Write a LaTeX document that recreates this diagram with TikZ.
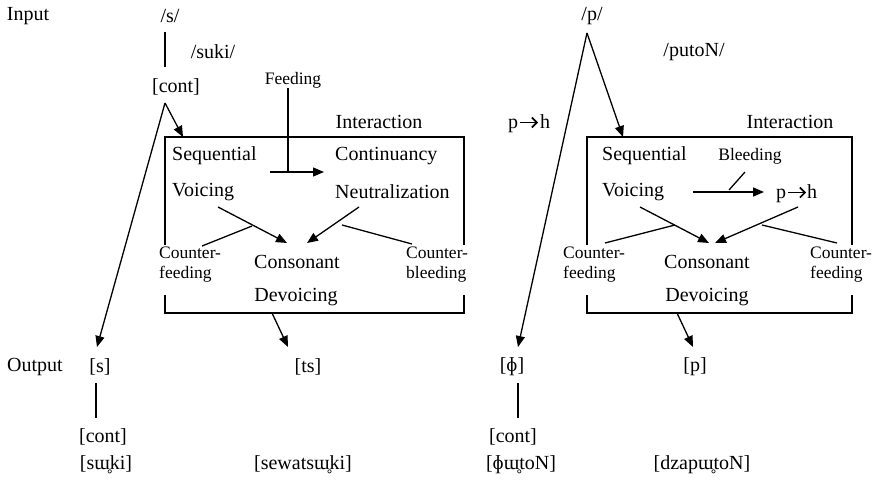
\documentclass[tikz,border=0pt]{standalone}
\usepackage{fontspec}
\setmainfont{Liberation Serif}
\usetikzlibrary{arrows.meta}
\begin{document}
\begin{tikzpicture}[x=1pt,y=-1pt,
  lbl/.style={inner sep=0pt, font=\fontsize{20}{22}\selectfont},
  sm/.style={inner sep=0pt, font=\fontsize{17.5}{20}\selectfont, align=left},
  arr/.style={-{Triangle[length=11pt,width=9pt]}, line width=1.3pt},
  ln/.style={line width=1.3pt},
  pharr/.style={-{Straight Barb[length=5pt,width=10pt,line width=1.6pt]}, line width=1.8pt}]
\useasboundingbox (0,0) rectangle (872,487);
% ---------- left panel ----------
\node[lbl] (in) at (28,16) {Input};
\node[lbl] (s) at (170,16) {/s/};
\node[lbl] (suki) at (213,52) {/suki/};
\node[lbl] (cont1) at (176,87) {[cont]};
\coordinate (v1a) at (165,32);
\coordinate (v1b) at (165,67);
\draw[ln] (v1a) -- (v1b);
\coordinate (apex1) at (165,103);
\coordinate (tipbox1) at (183,137);
\coordinate (tips1) at (97,347);
\draw[arr] (apex1) -- (tipbox1);
\draw[arr] (apex1) -- (tips1);
% box
\coordinate (b1a) at (165,245);
\coordinate (b1b) at (165,137);
\coordinate (b1c) at (464,137);
\coordinate (b1d) at (464,245);
\coordinate (b1e) at (165,295);
\coordinate (b1f) at (165,313);
\coordinate (b1g) at (464,313);
\coordinate (b1h) at (464,295);
\draw[ln] (b1a) -- (b1b) -- (b1c) -- (b1d);
\draw[ln] (b1e) -- (b1f) -- (b1g) -- (b1h);
\node[lbl] (int1) at (379,122) {Interaction};
\node[sm] (feed) at (293,80) {Feeding};
\coordinate (f1) at (288,88);
\coordinate (f2) at (288,172);
\coordinate (f3) at (270,172);
\coordinate (f4) at (324,172);
\draw[ln] (f1) -- (f2);
\draw[arr] (f3) -- (f4);
\node[lbl, anchor=west] (seq1) at (172,156) {Sequential};
\node[lbl, anchor=west] (voi1) at (172,192) {Voicing};
\node[lbl, anchor=west] (con1) at (335,156) {Continuancy};
\node[lbl, anchor=west] (neu1) at (335,192) {Neutralization};
\coordinate (a1s) at (218,207);
\coordinate (a1t) at (287,243);
\coordinate (a2s) at (359,207);
\coordinate (a2t) at (307,243);
\draw[arr] (a1s) -- (a1t);
\draw[arr] (a2s) -- (a2t);
\coordinate (c1a) at (202,246);
\coordinate (c1b) at (252,226);
\coordinate (c2a) at (342,225);
\coordinate (c2b) at (412,244);
\draw[ln] (c1a) -- (c1b);
\draw[ln] (c2a) -- (c2b);
\node[sm, anchor=west] (cf1) at (159,265) {Counter-\\feeding};
\node[sm, anchor=west] (cb1) at (406,265) {Counter-\\bleeding};
\node[lbl] (cons1) at (297,262) {Consonant};
\node[lbl] (dev1) at (296,297) {Devoicing};
\coordinate (o1a) at (272,313);
\coordinate (o1b) at (288,347);
\draw[arr] (o1a) -- (o1b);
\node[lbl] (out) at (35,367) {Output};
\node[lbl] (sout) at (100,367) {[s]};
\node[lbl] (ts) at (308,367) {[ts]};
\coordinate (v2a) at (96,383);
\coordinate (v2b) at (96,418);
\draw[ln] (v2a) -- (v2b);
\node[lbl] (cont2) at (103,437) {[cont]};
\node[lbl] (w1) at (106,465) {[sɯ̥ki]};
\node[lbl] (w2) at (303,465) {[sewatsɯ̥ki]};
% ---------- right panel ----------
\node[lbl] (p) at (592,16) {/p/};
\node[lbl] (puton) at (694,52) {/putoN/};
% p -> h (outside)
\node[lbl, anchor=base] (ph1p) at (513,128) {p};
\node[lbl, anchor=base] (ph1h) at (545,128) {h};
\coordinate (ph1a) at (520,122.5);
\coordinate (ph1b) at (538,122.5);
\draw[pharr] (ph1a) -- (ph1b);
\coordinate (apex2) at (587,33);
\coordinate (tipbox2) at (623,137);
\coordinate (tipphi) at (518,347);
\draw[arr] (apex2) -- (tipbox2);
\draw[arr] (apex2) -- (tipphi);
\coordinate (b2a) at (587,245);
\coordinate (b2b) at (587,137);
\coordinate (b2c) at (852,137);
\coordinate (b2d) at (852,245);
\coordinate (b2e) at (587,295);
\coordinate (b2f) at (587,313);
\coordinate (b2g) at (852,313);
\coordinate (b2h) at (852,295);
\draw[ln] (b2a) -- (b2b) -- (b2c) -- (b2d);
\draw[ln] (b2e) -- (b2f) -- (b2g) -- (b2h);
\node[lbl] (int2) at (790,122) {Interaction};
\node[lbl, anchor=west] (seq2) at (602,156) {Sequential};
\node[lbl, anchor=west] (voi2) at (602,192) {Voicing};
\node[sm] (bleed) at (750,156) {Bleeding};
% p -> h (inside box)
\node[lbl, anchor=base] (ph2p) at (781,198) {p};
\node[lbl, anchor=base] (ph2h) at (812,198) {h};
\coordinate (ph2a) at (788,192.5);
\coordinate (ph2b) at (806,192.5);
\draw[pharr] (ph2a) -- (ph2b);
\coordinate (bl1) at (693,192);
\coordinate (bl2) at (764,192);
\draw[arr] (bl1) -- (bl2);
\coordinate (sl1) at (729,190);
\coordinate (sl2) at (745,172);
\draw[ln] (sl1) -- (sl2);
\coordinate (a3s) at (640,207);
\coordinate (a3t) at (709,243);
\coordinate (a4s) at (798,207);
\coordinate (a4t) at (715,243);
\draw[arr] (a3s) -- (a3t);
\draw[arr] (a4s) -- (a4t);
\coordinate (c3a) at (605,243);
\coordinate (c3b) at (675,225);
\coordinate (c4a) at (762,225);
\coordinate (c4b) at (837,243);
\draw[ln] (c3a) -- (c3b);
\draw[ln] (c4a) -- (c4b);
\node[sm, anchor=west] (cf2) at (563,265) {Counter-\\feeding};
\node[sm, anchor=west] (cf3) at (810,265) {Counter-\\feeding};
\node[lbl] (cons2) at (707,262) {Consonant};
\node[lbl] (dev2) at (707,297) {Devoicing};
\coordinate (o2a) at (677,313);
\coordinate (o2b) at (693,347);
\draw[arr] (o2a) -- (o2b);
\node[lbl] (phi) at (512,367) {[ɸ]};
\node[lbl] (pout) at (695,367) {[p]};
\coordinate (v3a) at (518,383);
\coordinate (v3b) at (518,418);
\draw[ln] (v3a) -- (v3b);
\node[lbl] (cont3) at (513,437) {[cont]};
\node[lbl] (w3) at (521,465) {[ɸɯ̥toN]};
\node[lbl] (w4) at (702,465) {[dzapɯ̥toN]};
\end{tikzpicture}
\end{document}
